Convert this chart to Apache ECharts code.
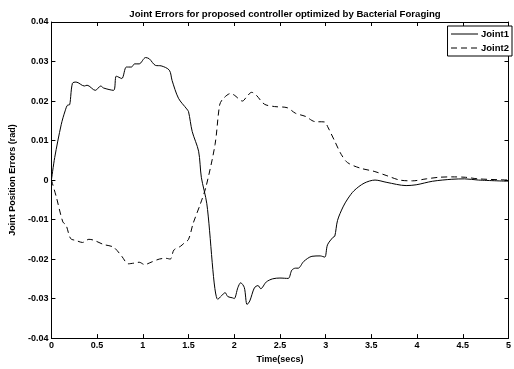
<!DOCTYPE html>
<html>
<head>
<meta charset="utf-8">
<script src="https://cdn.jsdelivr.net/npm/echarts@6/dist/echarts.min.js"></script>
<style>
html, body { margin: 0; padding: 0; background: #fff; }
#main { width: 514px; height: 369px; }
</style>
</head>
<body>
<div id="main"></div>
<script>
// time (secs), error (rad)
var joint1 = [
	[0, 0], [0.036, 0.0057], [0.107, 0.014], [0.15, 0.0175], [0.18, 0.019], [0.196, 0.019],
	[0.23, 0.0245], [0.27, 0.0248], [0.36, 0.0238], [0.39, 0.024], [0.48, 0.0227],
	[0.54, 0.0238], [0.57, 0.0233], [0.68, 0.0227], [0.71, 0.0263], [0.77, 0.0257],
	[0.82, 0.0286], [0.875, 0.0286], [0.91, 0.0294], [0.96, 0.0294], [1.03, 0.031],
	[1.07, 0.0307], [1.14, 0.029], [1.2, 0.0289], [1.29, 0.0278], [1.32, 0.0252],
	[1.39, 0.0207], [1.48, 0.018], [1.5, 0.0173], [1.54, 0.0123], [1.61, 0.0073],
	[1.64, 0.0007], [1.7, -0.006], [1.82, -0.0302], [1.86, -0.0293], [1.9, -0.0285],
	[1.93, -0.0295], [1.98, -0.0298], [2.0, -0.030], [2.04, -0.0272], [2.07, -0.026],
	[2.11, -0.0272], [2.14, -0.0315], [2.17, -0.0306], [2.22, -0.0273], [2.26, -0.0267],
	[2.29, -0.0275], [2.35, -0.0258], [2.42, -0.025], [2.5, -0.0248], [2.59, -0.0249],
	[2.63, -0.0228], [2.67, -0.0223], [2.7, -0.0223], [2.76, -0.0206], [2.85, -0.0193],
	[2.94, -0.0192], [2.99, -0.0195], [3.02, -0.0164], [3.08, -0.0145], [3.1, -0.0142],
	[3.13, -0.0102], [3.19, -0.0068], [3.24, -0.0048], [3.31, -0.0027], [3.42, -0.0008],
	[3.54, 0], [3.67, -0.0006], [3.88, -0.0014], [3.99, -0.0012], [4.17, -0.0003],
	[4.38, 0.0002], [4.52, 0.0003], [4.67, 0], [5.0, -0.0003]
];
var joint2 = [
	[0, 0], [0.054, -0.0043], [0.125, -0.0106], [0.16, -0.0114], [0.21, -0.0148],
	[0.27, -0.0153], [0.34, -0.0158], [0.41, -0.015], [0.46, -0.0152], [0.57, -0.0163],
	[0.68, -0.017], [0.77, -0.0193], [0.84, -0.0212], [0.91, -0.021], [0.96, -0.0208],
	[1.02, -0.0214], [1.09, -0.0208], [1.18, -0.02], [1.25, -0.0198], [1.3, -0.02],
	[1.34, -0.0177], [1.41, -0.0168], [1.45, -0.016], [1.5, -0.015], [1.55, -0.011],
	[1.63, -0.006], [1.69, -0.0018], [1.79, 0.009], [1.84, 0.019], [1.875, 0.0205],
	[1.96, 0.0219], [2.0, 0.0215], [2.09, 0.02], [2.14, 0.0212], [2.19, 0.0222],
	[2.24, 0.0215], [2.33, 0.0192], [2.44, 0.0186], [2.58, 0.0183], [2.67, 0.0169],
	[2.78, 0.0161], [2.88, 0.0148], [2.99, 0.0147], [3.02, 0.0136], [3.1, 0.0098],
	[3.17, 0.0065], [3.24, 0.0044], [3.38, 0.003], [3.53, 0.0022], [3.67, 0.0011],
	[3.81, 0], [3.95, -0.0002], [4.1, 0.0003], [4.24, 0.0007], [4.38, 0.0008],
	[4.53, 0.0007], [4.67, 0.0003], [5.0, 0]
];
var seriesNames = ['Joint1', 'Joint2'];

var chart = echarts.init(document.getElementById('main'));

var fontFam = '"Liberation Sans", Arial, sans-serif';
var labelStyle = { color: '#000', fontFamily: fontFam, fontWeight: 'bold', fontSize: 9 };
var lineBlack = { color: '#000', width: 1 };

var option = {
	animation: false,
	backgroundColor: '#fff',
	title: {
		text: 'Joint Errors for proposed controller optimized by Bacterial Foraging',
		left: 280,
		textAlign: 'center',
		top: 4,
		textStyle: { color: '#000', fontFamily: fontFam, fontWeight: 'bold', fontSize: 9.6 }
	},
	legend: {
		right: 2,
		top: 26,
		orient: 'vertical',
		itemGap: 4,
		itemWidth: 27,
		itemHeight: 10,
		padding: [3, 3, 3, 3],
		borderColor: '#000',
		borderWidth: 1,
		backgroundColor: '#fff',
		textStyle: Object.assign({ padding: [0, 0, 0, -2] }, labelStyle, { fontSize: 9.5 }),
		itemStyle: { opacity: 0 },
		lineStyle: { width: 1 },
		data: seriesNames
	},
	grid: { left: 46, right: 0, top: 22, bottom: 24, containLabel: false },
	xAxis: [{
		type: 'value', min: 0, max: 5, interval: 0.5,
		name: 'Time(secs)', nameLocation: 'middle', nameGap: 14,
		nameTextStyle: labelStyle,
		axisLine: { onZero: false, lineStyle: lineBlack },
		axisTick: { inside: true, length: 4, lineStyle: lineBlack },
		axisLabel: Object.assign({ margin: 3 }, labelStyle),
		splitLine: { show: false }
	}, {
		type: 'value', min: 0, max: 5, interval: 0.5, position: 'top',
		axisLine: { show: true, onZero: false, lineStyle: lineBlack },
		axisTick: { show: true, inside: true, length: 4, lineStyle: lineBlack },
		axisLabel: { show: false },
		splitLine: { show: false }
	}],
	yAxis: [{
		type: 'value', min: -0.04, max: 0.04, interval: 0.01,
		name: 'Joint Position Errors (rad)', nameLocation: 'middle', nameGap: 31,
		nameTextStyle: labelStyle,
		axisLine: { show: true, onZero: false, lineStyle: lineBlack },
		axisTick: { show: true, inside: true, length: 4, lineStyle: lineBlack },
		axisLabel: Object.assign({ margin: 3, formatter: function (v) { return +v.toFixed(2) + ''; } }, labelStyle),
		splitLine: { show: false }
	}, {
		type: 'value', min: -0.04, max: 0.04, interval: 0.01, position: 'right',
		axisLine: { show: true, onZero: false, lineStyle: lineBlack },
		axisTick: { show: true, inside: true, length: 4, lineStyle: lineBlack },
		axisLabel: { show: false },
		splitLine: { show: false }
	}],
	series: [{
		name: seriesNames[0],
		type: 'line',
		data: joint1,
		symbol: 'none',
		smooth: 0.3,
		lineStyle: { color: '#000', width: 1 },
		itemStyle: { color: '#000' }
	}, {
		name: seriesNames[1],
		type: 'line',
		data: joint2,
		symbol: 'none',
		smooth: 0.3,
		lineStyle: { color: '#000', width: 1, type: [6, 4] },
		itemStyle: { color: '#000' }
	}]
};

chart.setOption(option);
</script>
</body>
</html>
